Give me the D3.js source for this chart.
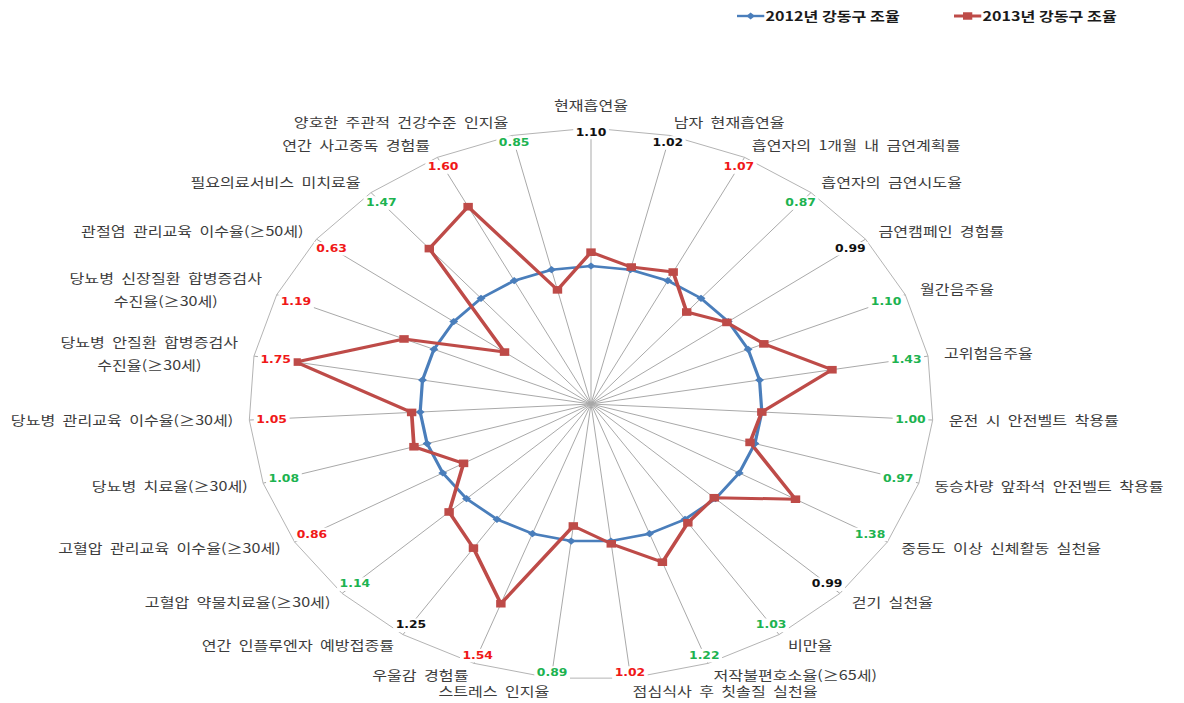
<!DOCTYPE html>
<html>
<head>
<meta charset="utf-8">
<script src="https://cdn.jsdelivr.net/npm/d3@7"></script>
<style>
  html, body { margin: 0; padding: 0; background: #ffffff; }
  svg { display: block; }
</style>
</head>
<body>
<svg id="chart" width="1184" height="703"></svg>
<script>
// ---- data -------------------------------------------------------------
const categories = [
  "현재흡연율",
  "남자 현재흡연율",
  "흡연자의 1개월 내 금연계획률",
  "흡연자의 금연시도율",
  "금연캠페인 경험률",
  "월간음주율",
  "고위험음주율",
  "운전 시 안전벨트 착용률",
  "동승차량 앞좌석 안전벨트 착용률",
  "중등도 이상 신체활동 실천율",
  "걷기 실천율",
  "비만율",
  "저작불편호소율(≥65세)",
  "점심식사 후 칫솔질 실천율",
  "스트레스 인지율",
  "우울감 경험률",
  "연간 인플루엔자 예방접종률",
  "고혈압 약물치료율(≥30세)",
  "고혈압 관리교육 이수율(≥30세)",
  "당뇨병 치료율(≥30세)",
  "당뇨병 관리교육 이수율(≥30세)",
  "당뇨병 안질환 합병증검사\n수진율(≥30세)",
  "당뇨병 신장질환 합병증검사\n수진율(≥30세)",
  "관절염 관리교육 이수율(≥50세)",
  "필요의료서비스 미치료율",
  "연간 사고중독 경험률",
  "양호한 주관적 건강수준 인지율"
];

const values2012 = [
  1.00, 1.00, 1.00, 1.00, 1.00, 1.00, 1.00, 1.00, 1.00,
  1.00, 1.00, 1.00, 1.00, 1.00, 1.00, 1.00, 1.00, 1.00,
  1.00, 1.00, 1.00, 1.00, 1.00, 1.00, 1.00, 1.00, 1.00
];

const values2013 = [
  1.10, 1.02, 1.07, 0.87, 0.99, 1.10, 1.43, 1.00, 0.97,
  1.38, 0.99, 1.03, 1.22, 1.02, 0.89, 1.54, 1.25, 1.14,
  0.86, 1.08, 1.05, 1.75, 1.19, 0.63, 1.47, 1.60, 0.85
];

// tone of each 2013 value label: k = neutral, r = red, g = green
const valueTone = [
  "k", "k", "r", "g", "k", "g", "g", "g", "g",
  "g", "k", "g", "g", "r", "g", "r", "k", "g",
  "r", "g", "r", "r", "r", "r", "g", "r", "g"
];

const seriesNames = ["2012년 강동구 조율", "2013년 강동구 조율"];
const radialDomain = [0, 2];

// ---- layout -----------------------------------------------------------
const cx = 591, cy = 404;
const stretch = 1.24;          // horizontal widening of the whole plot
const rMax = 276;
const labelRadius = 289;

const toneColor = { k: "#111111", r: "#f01818", g: "#1db350" };
const seriesColor = ["#4a7ebb", "#be4b48"];

const svg = d3.select("#chart");
const n = categories.length;
const r = d3.scaleLinear().domain(radialDomain).range([0, rMax]);
const angle = d3.scaleLinear().domain([0, n]).range([0, 2 * Math.PI]);
const pt = (i, radius) => [radius * Math.sin(angle(i)), -radius * Math.cos(angle(i))];

const g = svg.append("g")
  .attr("transform", `translate(${cx},${cy}) scale(${stretch},1)`);

// spokes
g.append("g").selectAll("line")
  .data(categories)
  .join("line")
  .attr("x1", 0).attr("y1", 0)
  .attr("x2", (d, i) => pt(i, r(radialDomain[1]))[0])
  .attr("y2", (d, i) => pt(i, r(radialDomain[1]))[1])
  .attr("stroke", "#a9a9a9")
  .attr("stroke-width", 1)
  .attr("vector-effect", "non-scaling-stroke");

// outer ring
const ringLine = d3.lineRadial()
  .angle((d, i) => angle(i))
  .radius(d => r(d))
  .curve(d3.curveLinearClosed);

g.append("path")
  .attr("d", ringLine(categories.map(() => radialDomain[1])))
  .attr("fill", "none")
  .attr("stroke", "#b4b4b4")
  .attr("stroke-width", 1)
  .attr("vector-effect", "non-scaling-stroke");

// series
const series = [values2012, values2013];
const strokeW = [2.6, 3];

series.forEach((vals, s) => {
  g.append("path")
    .attr("d", ringLine(vals))
    .attr("fill", "none")
    .attr("stroke", seriesColor[s])
    .attr("stroke-width", strokeW[s])
    .attr("stroke-linejoin", "round");
});

// markers: diamonds for 2012, squares for 2013
g.append("g").selectAll("path")
  .data(values2012)
  .join("path")
  .attr("d", d3.symbol(d3.symbolSquare, 26)())
  .attr("transform", (d, i) => {
    const [x, y] = pt(i, r(d));
    return `translate(${x},${y}) rotate(45)`;
  })
  .attr("fill", seriesColor[0]);

g.append("g").selectAll("path")
  .data(values2013)
  .join("path")
  .attr("d", d3.symbol(d3.symbolSquare, 58)())
  .attr("transform", (d, i) => {
    const [x, y] = pt(i, r(d));
    return `translate(${x},${y})`;
  })
  .attr("fill", seriesColor[1]);

// value labels near the ring
const vl = g.append("g").selectAll("g")
  .data(values2013)
  .join("g")
  .attr("transform", (d, i) => {
    const rr = 272 - 14 * Math.abs(Math.sin(angle(i)));
    const [x, y] = pt(i, rr);
    return `translate(${x},${y})`;
  });

vl.append("text")
  .attr("text-anchor", "middle")
  .attr("dy", "0.36em")
  .attr("font-family", "'DejaVu Sans', Verdana, sans-serif")
  .attr("font-weight", "bold")
  .attr("font-size", 10)
  .attr("fill", (d, i) => toneColor[valueTone[i]])
  .text(d => d.toFixed(2));

vl.each(function () {
  const t = d3.select(this).select("text");
  const b = t.node().getBBox();
  d3.select(this).insert("rect", "text")
    .attr("x", b.x - 2).attr("y", b.y - 1)
    .attr("width", b.width + 4).attr("height", b.height + 2)
    .attr("fill", "#ffffff");
});

// category labels
const catFont = { family: "'Noto Sans CJK KR', 'Noto Sans', sans-serif", size: 13 };
const lineGap = 23;

categories.forEach((name, i) => {
  const s = Math.sin(angle(i));
  let [x, y] = pt(i, labelRadius);
  const lines = name.split("\n");
  let anchor = "middle";
  if (s > 0.05) anchor = "start";
  else if (s < -0.05) anchor = "end";
  else if (Math.cos(angle(i)) > 0) y -= 10;

  const text = g.append("text")
    .attr("font-family", catFont.family)
    .attr("font-size", catFont.size)
    .attr("word-spacing", 3)
    .attr("fill", "#3c3c3c");

  const tspans = lines.map((ln, k) => text.append("tspan")
    .attr("y", y + (k - (lines.length - 1) / 2) * lineGap)
    .attr("dy", "0.35em")
    .text(ln));

  if (lines.length === 1) {
    text.attr("text-anchor", anchor);
    tspans[0].attr("x", x);
  } else {
    const widths = tspans.map(t => t.node().getComputedTextLength());
    const maxW = d3.max(widths);
    let mid = x;
    if (anchor === "start") mid = x + maxW / 2;
    if (anchor === "end") mid = x - maxW / 2;
    text.attr("text-anchor", "middle");
    tspans.forEach(t => t.attr("x", mid));
  }
});

// legend
const legend = svg.append("g")
  .attr("transform", `translate(737,16) scale(${stretch},1)`);
const legendStep = 175;

seriesNames.forEach((name, s) => {
  const item = legend.append("g").attr("transform", `translate(${s * legendStep},0)`);
  item.append("line")
    .attr("x1", 0).attr("x2", 22).attr("y1", 0).attr("y2", 0)
    .attr("stroke", seriesColor[s])
    .attr("stroke-width", s === 0 ? 2.4 : 3);
  if (s === 0) {
    item.append("path")
      .attr("d", d3.symbol(d3.symbolSquare, 24)())
      .attr("transform", "translate(11,0) rotate(45)")
      .attr("fill", seriesColor[s]);
  } else {
    item.append("path")
      .attr("d", d3.symbol(d3.symbolSquare, 56)())
      .attr("transform", "translate(11,0)")
      .attr("fill", seriesColor[s]);
  }
  item.append("text")
    .attr("x", 23).attr("y", 0).attr("dy", "0.36em")
    .attr("font-family", "'Noto Sans CJK KR', sans-serif")
    .attr("font-weight", "bold")
    .attr("font-size", 13)
    .attr("fill", "#1a1a1a")
    .text(name);
});
</script>
</body>
</html>
